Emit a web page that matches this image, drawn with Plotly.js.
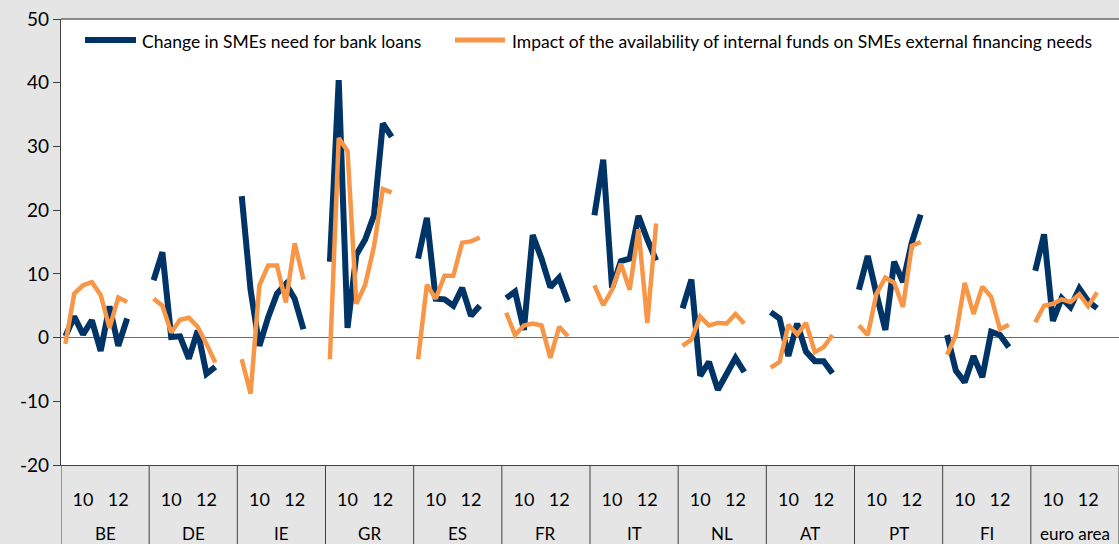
<!DOCTYPE html>
<html>
<head>
<meta charset="utf-8">
<script src="https://cdn.plot.ly/plotly-3.0.1.min.js"></script>
<style>
html,body{margin:0;padding:0;background:#e5e5e5;}
#chart{width:1119px;height:544px;}
</style>
</head>
<body>
<div id="chart"></div>
<script>
// Countries (groups) and half-year periods within each group
const countries = ["BE","DE","IE","GR","ES","FR","IT","NL","AT","PT","FI","euro area"];
const periods = ["09H1","09H2","10H1","10H2","11H1","11H2","12H1","12H2"];
const yearTickLabels = ["10","12"];
const yearTickPeriods = ["10H1","12H1"];
const yTickValues = [-20, -10, 0, 10, 20, 30, 40, 50];
const yTickLabels = ["-20", "-10", "0", "10", "20", "30", "40", "50"];

// Change in SMEs need for bank loans (net %)
const needBankLoans = {
  "BE": [0.2, 3.3, 0.5, 2.7, -2.1, 4.9, -1.3, 3.0],
  "DE": [9.0, 13.4, 0.1, 0.2, -3.3, 1.1, -5.7, -4.6],
  "IE": [22.2, 7.5, -1.3, 3.2, 6.9, 8.4, 6.1, 1.3],
  "GR": [11.9, 40.4, 1.5, 13.0, 15.4, 19.2, 33.6, 31.5],
  "ES": [12.4, 18.8, 6.1, 6.0, 5.0, 7.8, 3.4, 5.0],
  "FR": [6.2, 7.2, 1.2, 16.1, 12.4, 7.9, 9.4, 5.6],
  "IT": [19.2, 27.9, 7.8, 12.0, 12.4, 19.1, 15.4, 12.1],
  "NL": [4.6, 9.1, -6.0, -3.8, -8.2, -5.6, -3.2, -5.4],
  "AT": [4.0, 3.0, -2.9, 2.2, -2.2, -3.7, -3.7, -5.6],
  "PT": [7.5, 12.8, 6.8, 1.2, 11.9, 8.7, 14.9, 19.3],
  "FI": [0.4, -5.2, -7.0, -2.9, -6.2, 0.9, 0.4, -1.5],
  "euro area": [10.5, 16.2, 2.6, 6.2, 4.8, 7.7, 5.7, 4.6]
};

// Impact of the availability of internal funds on SMEs external financing needs (net %)
const internalFunds = {
  "BE": [-1.0, 6.9, 8.2, 8.7, 6.7, 1.5, 6.3, 5.6],
  "DE": [6.1, 5.0, 0.8, 2.8, 3.1, 1.7, -1.0, -3.9],
  "IE": [-3.4, -8.8, 8.2, 11.3, 11.3, 5.5, 14.8, 9.1],
  "GR": [-3.4, 31.3, 29.3, 5.3, 8.3, 14.3, 23.3, 22.8],
  "ES": [-3.4, 8.3, 6.1, 9.7, 9.7, 14.9, 15.1, 15.7],
  "FR": [3.9, 0.4, 1.9, 2.2, 1.9, -3.2, 1.7, 0.2],
  "IT": [8.2, 5.1, 7.5, 11.6, 7.5, 17.0, 2.3, 17.9],
  "NL": [-1.3, -0.3, 3.3, 1.9, 2.3, 2.2, 3.7, 2.2],
  "AT": [-4.7, -3.8, 2.0, 0.5, 2.3, -2.3, -1.5, 0.4],
  "PT": [1.9, 0.4, 6.9, 9.4, 8.6, 4.8, 14.4, 15.0],
  "FI": [-2.7, 0.4, 8.6, 3.7, 8.0, 6.4, 1.3, 2.0],
  "euro area": [2.4, 5.0, 5.3, 6.0, 5.6, 6.8, 4.9, 7.1]
};

const seriesNames = [
  "Change in SMEs need for bank loans",
  "Impact of the availability of internal funds on SMEs external financing needs"
];
const seriesColors = ["#003466", "#f79646"];

// Each country occupies a block of 10 category slots; 8 filled, 2 blank (gap)
const SLOTS = 10;
function xOf(g, i){ return g*SLOTS + i + 0.5; }

const traces = [];
[needBankLoans, internalFunds].forEach((src, s) => {
  countries.forEach((c, g) => {
    traces.push({
      type: "scatter", mode: "lines",
      x: periods.map((p, i) => xOf(g, i)),
      y: src[c],
      line: {color: seriesColors[s], width: s === 0 ? 6 : 4.5, shape: "linear"},
      showlegend: false, hoverinfo: "skip",
      cliponaxis: false
    });
  });
});

const tickvals = [], ticktext = [];
countries.forEach((c, g) => {
  yearTickPeriods.forEach((p, k) => {
    tickvals.push(xOf(g, periods.indexOf(p)));
    ticktext.push(yearTickLabels[k]);
  });
});

const FONT = "Lato, 'Open Sans', sans-serif";
const plotH = 465 - 19, plotW = 1119 - 61;
const shapes = [];
// group dividers in the category band
for (let g = 0; g <= countries.length; g++) {
  shapes.push({type:"line", xref:"x", yref:"paper", x0:g*SLOTS, x1:g*SLOTS, y0:0, y1:-(544-465)/plotH,
    line:{color:"#404040", width:1}});
}
// top border of plot area
shapes.push({type:"line", xref:"paper", yref:"paper", x0:0, x1:1, y0:1, y1:1, line:{color:"#222", width:1.2}});
// legend line samples
function px2x(px){ return (px-61)/plotW; }
function py2y(py){ return (465-py)/plotH; }
shapes.push({type:"line", xref:"paper", yref:"paper", x0:px2x(85), x1:px2x(136), y0:py2y(40), y1:py2y(40),
  line:{color:seriesColors[0], width:6}});
shapes.push({type:"line", xref:"paper", yref:"paper", x0:px2x(455), x1:px2x(505), y0:py2y(40), y1:py2y(40),
  line:{color:seriesColors[1], width:5}});

const annotations = [];
countries.forEach((c, g) => {
  annotations.push({xref:"x", yref:"paper", x:g*SLOTS + SLOTS/2, y:py2y(533), text:c, showarrow:false,
    xanchor:"center", yanchor:"middle", font:{family:FONT, size:17, color:"#000"}});
});
annotations.push({xref:"paper", yref:"paper", x:px2x(140), y:py2y(41), text:seriesNames[0], showarrow:false,
  xanchor:"left", yanchor:"middle", font:{family:FONT, size:17.5, color:"#000"}});
annotations.push({xref:"paper", yref:"paper", x:px2x(510), y:py2y(41), text:seriesNames[1], showarrow:false,
  xanchor:"left", yanchor:"middle", font:{family:FONT, size:17.5, color:"#000"}});

const layout = {
  width: 1119, height: 544,
  margin: {l:61, r:0, t:19, b:79, pad:0},
  paper_bgcolor: "#e5e5e5",
  plot_bgcolor: "#ffffff",
  showlegend: false,
  xaxis: {
    range: [0, countries.length*SLOTS], showgrid:false, zeroline:false,
    showline:true, linecolor:"#404040", linewidth:1,
    tickmode:"array", tickvals:tickvals, ticktext:ticktext, ticks:"",
    ticklabelstandoff: 18,
    tickfont:{family:FONT, size:18, color:"#000"}, fixedrange:true
  },
  yaxis: {
    range:[-20, 50], tickmode:"array", tickvals:yTickValues, ticktext:yTickLabels, showgrid:false,
    zeroline:true, zerolinecolor:"#6b6b6b", zerolinewidth:1.2,
    showline:true, linecolor:"#404040", linewidth:1.2,
    ticks:"outside", ticklen:7, tickcolor:"#404040", tickwidth:1,
    tickfont:{family:FONT, size:19, color:"#000"}, fixedrange:true
  },
  shapes: shapes,
  annotations: annotations
};

Plotly.newPlot("chart", traces, layout, {displayModeBar:false, staticPlot:true});
</script>
</body>
</html>
